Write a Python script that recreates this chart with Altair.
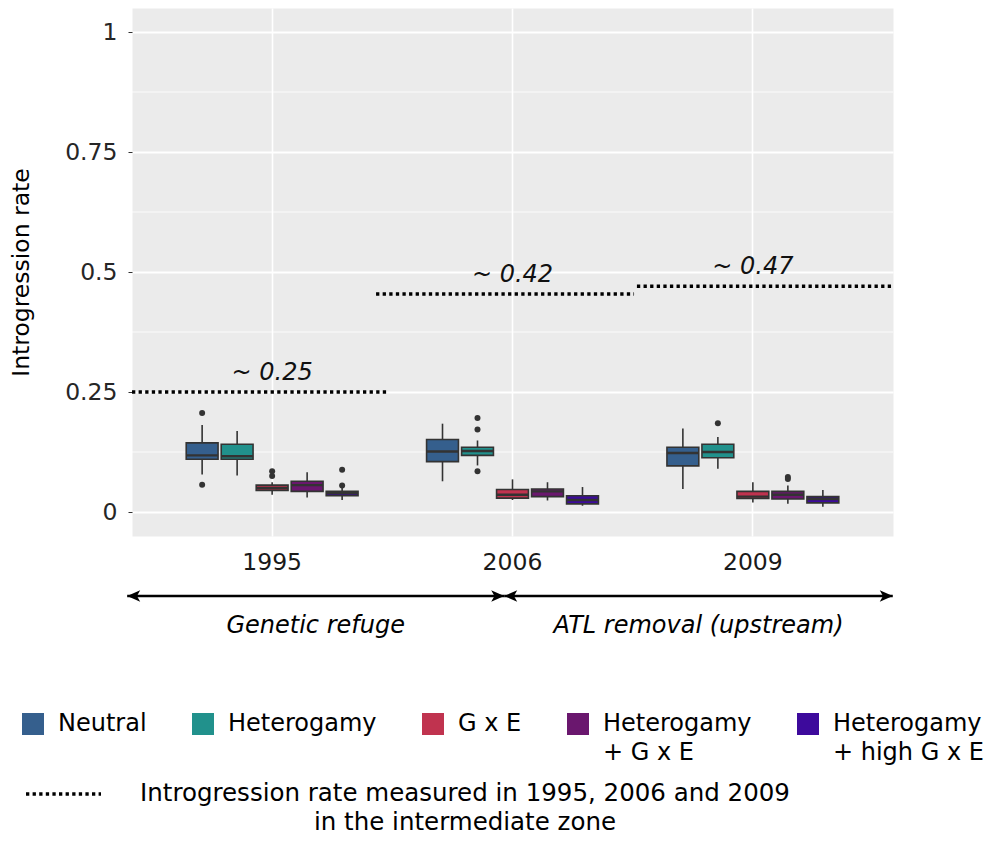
import altair as alt
import pandas as pd

FONT = "DejaVu Sans"

years = ["1995", "2006", "2009"]
scenarios = ["Neutral", "Heterogamy", "G x E", "Heterogamy + G x E", "Heterogamy + high G x E"]
colors = ["#355f8d", "#21918c", "#c0334f", "#6a176e", "#3d0a9c"]

# box-plot summaries, one entry per (year, scenario)
box_year = ["1995"] * 5 + ["2006"] * 5 + ["2009"] * 5
box_scenario = scenarios * 3
whisker_low = [0.078, 0.076, 0.036, 0.030, 0.025,
               0.064, 0.097, 0.025, 0.024, 0.013,
               0.048, 0.090, 0.020, 0.017, 0.011]
q1 = [0.110, 0.110, 0.045, 0.043, 0.034,
      0.105, 0.118, 0.029, 0.032, 0.017,
      0.096, 0.113, 0.028, 0.027, 0.019]
median = [0.118, 0.116, 0.050, 0.056, 0.039,
          0.126, 0.127, 0.036, 0.043, 0.025,
          0.123, 0.125, 0.032, 0.036, 0.027]
q3 = [0.144, 0.141, 0.056, 0.064, 0.043,
      0.151, 0.135, 0.047, 0.048, 0.034,
      0.135, 0.141, 0.043, 0.043, 0.032]
whisker_high = [0.181, 0.169, 0.062, 0.083, 0.050,
                0.184, 0.149, 0.068, 0.062, 0.052,
                0.174, 0.156, 0.062, 0.055, 0.046]

# outliers
out_year = ["1995", "1995", "1995", "1995", "1995", "1995",
            "2006", "2006", "2006", "2009", "2009", "2009"]
out_scenario = ["Neutral", "Neutral", "G x E", "G x E",
                "Heterogamy + high G x E", "Heterogamy + high G x E",
                "Heterogamy", "Heterogamy", "Heterogamy",
                "Heterogamy", "Heterogamy + G x E", "Heterogamy + G x E"]
out_value = [0.206, 0.057, 0.085, 0.075, 0.088, 0.055,
             0.196, 0.172, 0.085, 0.185, 0.073, 0.069]

# measured introgression rate in the intermediate zone (dotted segments)
seg_year = years
seg_start = [0.43, 1.445, 2.53]
seg_end = [1.50, 2.518, 3.595]
seg_value = [0.25, 0.454, 0.4705]
seg_label = ["~ 0.25", "~ 0.42", "~ 0.47"]
measured_line1 = "Introgression rate measured in 1995, 2006 and 2009"
measured_line2 = "in the intermediate zone"

# periods shown under the x axis
period_label = ["Genetic refuge", "ATL removal (upstream)"]
period_start = [0.41, 1.978]
period_end = [1.978, 3.594]

y_ticks = [0, 0.25, 0.5, 0.75, 1]
y_minor = [0.125, 0.375, 0.625, 0.875]

boxes = pd.DataFrame({"year": box_year, "scenario": box_scenario, "lo": whisker_low,
                      "q1": q1, "med": median, "q3": q3, "hi": whisker_high})
outliers = pd.DataFrame({"year": out_year, "scenario": out_scenario, "value": out_value})
segs = pd.DataFrame({"year": seg_year, "start": seg_start, "end": seg_end,
                     "value": seg_value, "label": seg_label,
                     "kind": measured_line1 + " | " + measured_line2})
periods = pd.DataFrame({"label": period_label, "start": period_start, "end": period_end})
minor = pd.DataFrame({"v": y_minor})

yscale = alt.Scale(domain=[-0.05, 1.05], nice=False, zero=False)
yaxis = alt.Axis(values=y_ticks, labelExpr="'' + datum.value", title="Introgression rate",
                 titleFontSize=23.5, titleFontWeight="normal", titleFont=FONT, titleColor="black",
                 titlePadding=31, labelFontSize=23.5, labelFont=FONT, labelColor="#262626",
                 labelPadding=11, tickSize=4, tickColor="#333333", domain=False, grid=True,
                 gridColor="white", gridWidth=1.8)
xscale = alt.Scale(domain=years, paddingInner=0.272, paddingOuter=0.219)
xaxis = alt.Axis(title=None, labelFontSize=23.5, labelFont=FONT, labelColor="#1a1a1a",
                 ticks=False, domain=False, grid=True, gridColor="white", gridWidth=1.6,
                 bandPosition=0.5, labelPadding=14, labelAngle=0)
xq = alt.Scale(domain=[0.43, 3.595], nice=False, zero=False)
xoff = alt.XOffset("scenario:N", scale=alt.Scale(domain=scenarios, paddingInner=0.09, paddingOuter=0.045))

X = alt.X("year:N", scale=xscale, axis=xaxis)

minor_layer = alt.Chart(minor).mark_rule(color="white", strokeWidth=0.8).encode(
    y=alt.Y("v:Q", scale=yscale, axis=yaxis))

whisk = alt.Chart(boxes).mark_rule(color="#333333", strokeWidth=1.6).encode(
    x=X, xOffset=xoff, y=alt.Y("lo:Q", scale=yscale, axis=yaxis), y2="hi:Q")

split_expr = ("indexof(datum.label, ' + ') > 0 ? [substring(datum.label, 0, indexof(datum.label, ' + ')), "
              "substring(datum.label, indexof(datum.label, ' + ') + 1)] : [datum.label, ' ']")

box = alt.Chart(boxes).mark_bar(stroke="#333333", strokeWidth=1.6).encode(
    x=X, xOffset=xoff, y=alt.Y("q1:Q", scale=yscale, axis=yaxis), y2="q3:Q",
    color=alt.Color("scenario:N", scale=alt.Scale(domain=scenarios, range=colors),
                    legend=alt.Legend(title=None, orient="none", legendX=-111, legendY=704,
                                      direction="horizontal", columns=5, symbolType="square",
                                      symbolSize=484, symbolStrokeWidth=0, symbolOpacity=1,
                                      labelFontSize=24, labelFont=FONT, labelColor="black",
                                      labelOffset=13, columnPadding=44, labelLimit=400,
                                      labelExpr=split_expr, padding=0)))

med = alt.Chart(boxes).mark_bar(stroke="#333333", strokeWidth=2.4, fill="#333333").encode(
    x=X, xOffset=xoff, y=alt.Y("med:Q", scale=yscale, axis=yaxis), y2="med:Q")

outl = alt.Chart(outliers).mark_circle(color="#333333", size=36, opacity=1).encode(
    x=X, xOffset=xoff, y=alt.Y("value:Q", scale=yscale, axis=yaxis))

vtext = alt.Chart(segs).mark_text(font=FONT, fontSize=24, fontStyle="italic", color="#111111",
                                  dy=-19.5, baseline="middle").encode(
    x=X, y=alt.Y("value:Q", scale=yscale, axis=yaxis), text="label:N")

nominal = alt.layer(minor_layer, whisk, box, med, outl, vtext)

dash_expr = "['" + measured_line1 + "', '" + measured_line2 + "']"
dots = alt.Chart(segs).mark_rule(color="black", strokeWidth=3.5, strokeCap="butt").encode(
    x=alt.X("start:Q", scale=xq, axis=None), x2="end:Q",
    y=alt.Y("value:Q", scale=yscale, axis=yaxis),
    strokeDash=alt.StrokeDash("kind:N", scale=alt.Scale(range=[[3.3, 3.3]]),
                              legend=alt.Legend(title=None, orient="none", legendX=-108, legendY=746.5,
                                                symbolType="stroke", symbolSize=5625,
                                                symbolStrokeWidth=3.5, symbolStrokeColor="black",
                                                labelExpr=dash_expr, labelAlign="center",
                                                labelOffset=362, labelLimit=900, labelFontSize=24.5,
                                                labelFont=FONT, labelColor="black", padding=0)))

arrow_level = -0.175
period_text_level = -0.238
arrows = alt.Chart(periods).mark_rule(color="black", strokeWidth=2.5).encode(
    x=alt.X("start:Q", scale=xq, axis=None), x2="end:Q", y=alt.datum(arrow_level))
head_left = alt.Chart(periods).mark_point(
    shape="M0,0 L2,-0.9 L1.5,0 L2,0.9 Z", filled=True, color="black", size=169, opacity=1).encode(
    x=alt.X("start:Q", scale=xq, axis=None), y=alt.datum(arrow_level))
head_right = alt.Chart(periods).mark_point(
    shape="M0,0 L-2,-0.9 L-1.5,0 L-2,0.9 Z", filled=True, color="black", size=169, opacity=1).encode(
    x=alt.X("end:Q", scale=xq, axis=None), y=alt.datum(arrow_level))
ptext = alt.Chart(periods).transform_calculate(mid="(datum.start + datum.end) / 2").mark_text(
    font=FONT, fontSize=24, fontStyle="italic", color="black", baseline="middle").encode(
    x=alt.X("mid:Q", scale=xq, axis=None), y=alt.datum(period_text_level), text="label:N")

quant = alt.layer(dots, arrows, head_left, head_right, ptext)

chart = alt.layer(nominal, quant).resolve_scale(x="independent").properties(
    width=761, height=528,
    autosize=alt.AutoSizeParams(type="none"),
    padding={"left": 124, "top": 0, "right": 99, "bottom": 299},
).configure(
    font=FONT, style={"guide-label": {"lineHeight": 29}}
).configure_view(fill="#ebebeb", stroke="transparent")

chart.save("out.html", embed_options={"renderer": "svg", "actions": False})
